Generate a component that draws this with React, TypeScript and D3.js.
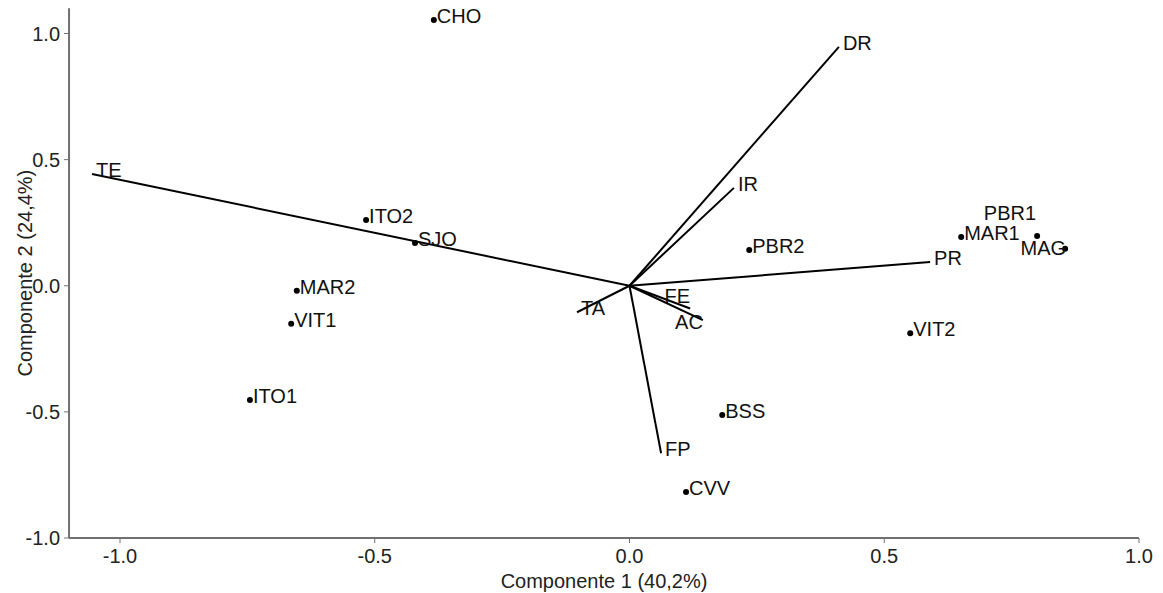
import React from "react";
import * as d3 from "d3";

const scoreNames = ["CHO", "ITO2", "SJO", "MAR2", "VIT1", "ITO1", "PBR2", "MAR1", "PBR1", "MAG", "VIT2", "BSS", "CVV"];
const scoreX = [-0.384, -0.517, -0.421, -0.653, -0.664, -0.745, 0.235, 0.651, 0.800, 0.855, 0.551, 0.182, 0.111];
const scoreY = [1.054, 0.261, 0.169, -0.02, -0.151, -0.453, 0.142, 0.193, 0.197, 0.147, -0.188, -0.512, -0.818];

const loadNames = ["DR", "IR", "PR", "TE", "TA", "FE", "AC", "FP"];
const loadX = [0.411, 0.205, 0.590, -1.055, -0.103, 0.119, 0.144, 0.062];
const loadY = [0.947, 0.388, 0.094, 0.443, -0.105, -0.090, -0.136, -0.664];

const xTicks = [-1.0, -0.5, 0.0, 0.5, 1.0];
const yTicks = [-1.0, -0.5, 0.0, 0.5, 1.0];

const xTitle = "Componente 1 (40,2%)";
const yTitle = "Componente 2 (24,4%)";

// label placement rules (style, not data)
const labelPlace: Record<string, { anchor: string; dx: number; dy: number }> = {
  FE: { anchor: "end", dx: 0, dy: -5 },
  AC: { anchor: "end", dx: 0, dy: 9 },
  MAG: { anchor: "end", dx: 1, dy: 6 },
  PBR1: { anchor: "end", dx: -1, dy: -16 },
};

export default function App() {
  const W = 1163, H = 593;
  const x = d3.scaleLinear().domain([-1.0, 1.0]).range([120, 1139]);
  const y = d3.scaleLinear().domain([-1.0, 1.0]).range([538, 33.5]);
  const x0 = x(-1.1), x1 = x(1.0);
  const y0 = y(-1.0), y1 = y(1.1);
  const fmt = (v: number) => d3.format(".1f")(v).replace("\u2212", "-");
  const font = "'Liberation Sans', Arial, sans-serif";
  const axisColor = "#707070";
  const fs = 20;

  return (
    <svg width={W} height={H} style={{ position: "absolute", left: 0, top: 0, background: "#fff" }} fontFamily={font}>
      {/* axes */}
      <line x1={x0} x2={x1} y1={y0} y2={y0} stroke={axisColor} strokeWidth={2} />
      <line x1={x0} x2={x0} y1={y1} y2={y0} stroke={axisColor} strokeWidth={2} />
      {xTicks.map((t) => (
        <g key={"xt" + t}>
          <line x1={x(t)} x2={x(t)} y1={y0} y2={y0 + 5} stroke={axisColor} strokeWidth={1} />
          <text x={x(t)} y={563} fontSize={fs} textAnchor="middle" fill="#222">{fmt(t)}</text>
        </g>
      ))}
      {yTicks.map((t) => (
        <g key={"yt" + t}>
          <line x1={x0 - 5} x2={x0} y1={y(t)} y2={y(t)} stroke={axisColor} strokeWidth={1} />
          <text x={x0 - 9} y={y(t) + 7} fontSize={fs} textAnchor="end" fill="#222">{fmt(t)}</text>
        </g>
      ))}
      <text x={(x0 + x1) / 2} y={588} fontSize={fs} textAnchor="middle" fill="#222">{xTitle}</text>
      <text transform={`translate(32,${(y0 + y1) / 2}) rotate(-90)`} fontSize={fs} textAnchor="middle" fill="#222">{yTitle}</text>

      {/* loading vectors */}
      {loadNames.map((n, i) => {
        const p = labelPlace[n];
        const ex = x(loadX[i]), ey = y(loadY[i]);
        return (
          <g key={"l" + n}>
            <line x1={x(0)} y1={y(0)} x2={ex} y2={ey} stroke="#000" strokeWidth={2} />
            <text
              x={p ? ex + p.dx : ex + 4}
              y={p ? ey + p.dy : ey + 3}
              fontSize={fs}
              textAnchor={p ? p.anchor : "start"}
              fill="#111"
            >{n}</text>
          </g>
        );
      })}

      {/* scores */}
      {scoreNames.map((n, i) => {
        const p = labelPlace[n];
        const cx = x(scoreX[i]), cy = y(scoreY[i]);
        return (
          <g key={"s" + n}>
            <circle cx={cx} cy={cy} r={3} fill="#000" />
            <text
              x={p ? cx + p.dx : cx + 3}
              y={p ? cy + p.dy : cy + 3}
              fontSize={fs}
              textAnchor={p ? p.anchor : "start"}
              fill="#111"
            >{n}</text>
          </g>
        );
      })}
    </svg>
  );
}
